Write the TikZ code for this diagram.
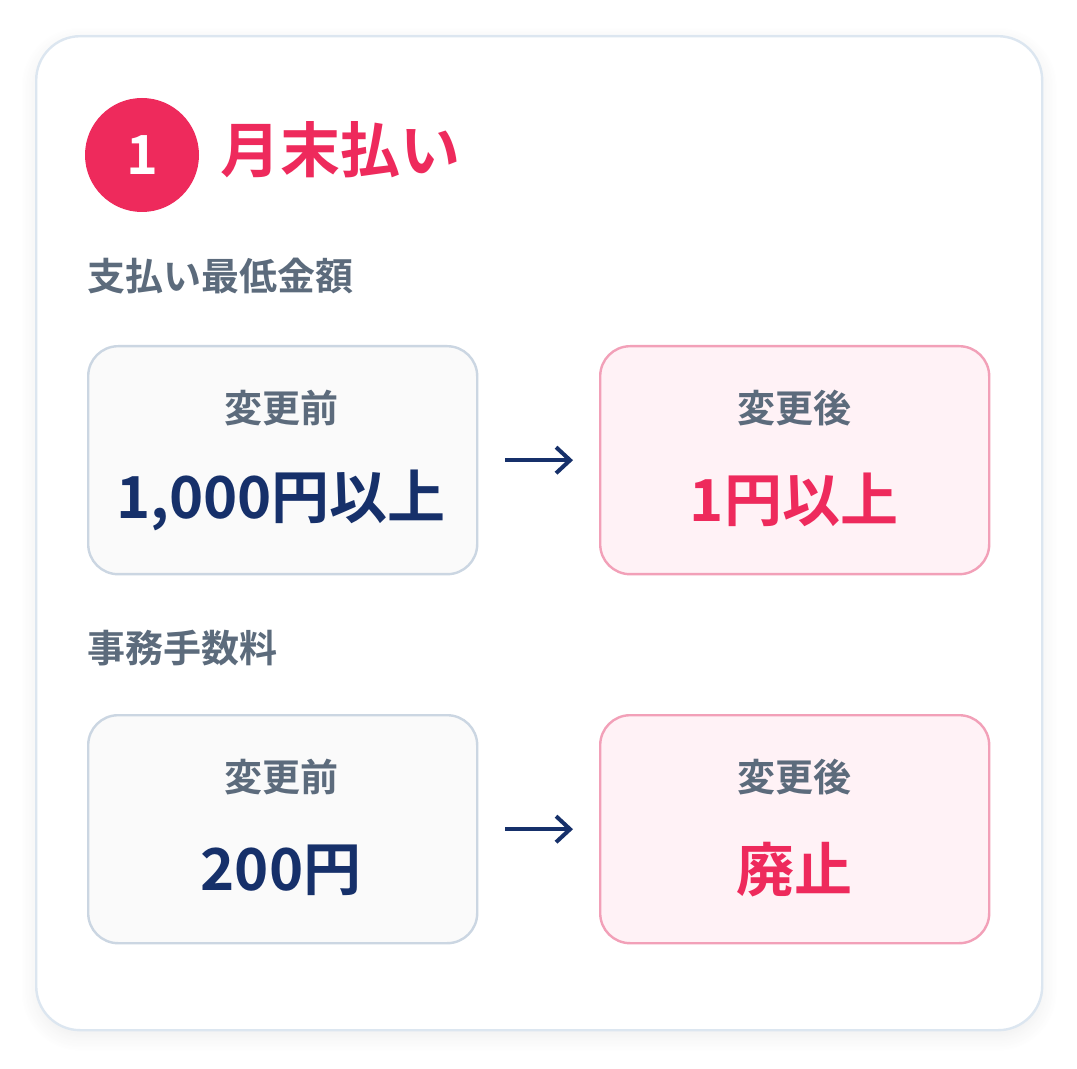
\documentclass[tikz,border=0pt]{standalone}
\usepackage{fontspec}
\setmainfont{Noto Sans CJK JP}[BoldFont={* Bold}]
\usetikzlibrary{arrows.meta,shadows.blur}
\definecolor{pinkc}{HTML}{EE2A5C}
\definecolor{navy}{HTML}{16306A}
\definecolor{grayt}{HTML}{5C6B7C}
\begin{document}
\begin{tikzpicture}[x=0.5pt,y=-0.5pt,
 box/.style={draw,line width=1.2pt,rounded corners=15pt,minimum width=194.5pt,minimum height=114pt,anchor=north west},
 before/.style={box,fill=black!2!white,draw={rgb,255:red,203;green,214;blue,226}},
 after/.style={box,fill={rgb,255:red,255;green,242;blue,246},draw={rgb,255:red,242;green,160;blue,184}},
 small/.style={font=\fontsize{19}{22}\selectfont\bfseries,text=grayt},
 big/.style={font=\fontsize{29}{34}\selectfont\bfseries},
 arr/.style={-{Straight Barb[length=7pt,width=13pt]},line width=2pt,draw=navy,shorten <=13.5pt,shorten >=13pt}]
\useasboundingbox (0,0) rectangle (1077,1069);
\node[draw={rgb,255:red,220;green,230;blue,240},line width=1.2pt,fill=white,rounded corners=22pt,minimum width=503pt,minimum height=497pt,anchor=north west,blur shadow={shadow blur steps=14,shadow blur extra rounding=6pt,shadow xshift=0pt,shadow yshift=-3pt,shadow opacity=7,shadow blur radius=8pt}] (card) at (35,35) {};
\node[circle,fill=pinkc,minimum size=57pt,inner sep=0pt,text=white,font=\fontsize{27}{30}\selectfont\bfseries] (num) at (142,155) {1};
\node[anchor=west,text=pinkc,font=\fontsize{30}{34}\selectfont\bfseries,inner sep=0pt] (title) at (220,150) {月末払い};
\node[anchor=west,small,inner sep=0pt] (s1) at (87,276) {支払い最低金額};
\node[before] (b1) at (87,345) {};
\node[after] (a1) at (599,345) {};
\node[small] (b1l) at (281,408) {変更前};
\node[big,text=navy] (b1v) at (281,500) {1,000円以上};
\node[small] (a1l) at (794,408) {変更後};
\node[big,text=pinkc] (a1v) at (794,500) {1円以上};
\draw[arr] (b1.east) -- (a1.west);
\node[anchor=west,small,inner sep=0pt] (s2) at (87,648) {事務手数料};
\node[before] (b2) at (87,714) {};
\node[after] (a2) at (599,714) {};
\node[small] (b2l) at (281,777) {変更前};
\node[big,text=navy] (b2v) at (281,870) {200円};
\node[small] (a2l) at (794,777) {変更後};
\node[big,text=pinkc] (a2v) at (794,870) {廃止};
\draw[arr] (b2.east) -- (a2.west);
\end{tikzpicture}
\end{document}
